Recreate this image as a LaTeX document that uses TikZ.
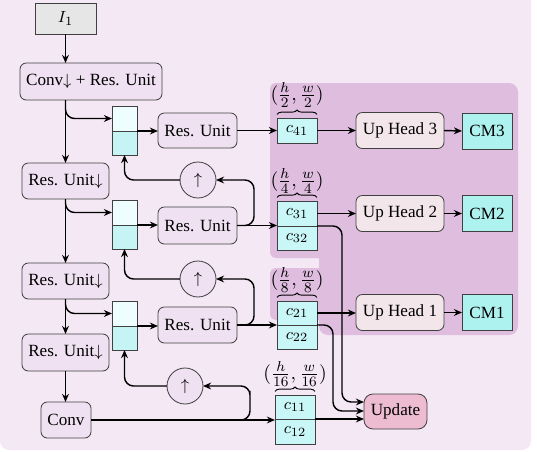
\documentclass[tikz,border=0pt]{standalone}
\usepackage{fontspec}
\setmainfont{Liberation Serif}
\usetikzlibrary{arrows.meta,decorations.pathreplacing,calc}
\newcommand\pxu{0.555pt}
\definecolor{bgcol}{HTML}{F4E8F4}
\definecolor{purp}{HTML}{DEBDDE}
\definecolor{boxfill}{HTML}{EFE1F1}
\definecolor{headfill}{HTML}{F3E6EA}
\definecolor{cfill}{HTML}{C9F6F6}
\definecolor{cmfill}{HTML}{ADF2EF}
\definecolor{stop}{HTML}{EEFDFD}
\definecolor{sbot}{HTML}{C6F4F4}
\definecolor{updfill}{HTML}{EDBCD0}
\definecolor{infill}{HTML}{E6E6E6}
\begin{document}
\begin{tikzpicture}[x=0.555pt,y=-0.555pt,
  font=\fontsize{9.5}{11}\selectfont,
  base/.style={draw=black!75, line width=0.45pt, inner sep=0pt, outer sep=0pt},
  rbox/.style={base, fill=boxfill, rounded corners=3.5pt},
  hbox/.style={base, fill=headfill, rounded corners=3.5pt},
  cbox/.style={base, fill=cfill},
  cmbox/.style={base, fill=cmfill},
  sboxt/.style={base, fill=stop, minimum width=25*\pxu, minimum height=25*\pxu},
  sboxb/.style={base, fill=sbot, minimum width=25*\pxu, minimum height=24*\pxu},
  upc/.style={base, fill=boxfill, circle, minimum size=36*\pxu},
  arr/.style={-{Stealth[length=4.5pt,width=3.8pt]}, line width=0.8pt},
  rc/.style={rounded corners=5pt},
  brc/.style={decorate, decoration={brace, amplitude=2.5pt}, line width=0.5pt},
  dim/.style={inner sep=0pt, font=\fontsize{11}{13}\selectfont}
]
\useasboundingbox (0,0) rectangle (537,452);
\fill[bgcol, rounded corners=5pt] (0,-10) rectangle (531,450);
% purple region
\fill[purp, rounded corners=5pt] (319,83) rectangle (518,335);
\fill[purp, rounded corners=3pt] (270,83) rectangle (330,258);
\fill[purp, rounded corners=3pt] (270,268) rectangle (330,320);

% left column
\node[base, fill=infill, minimum width=61*\pxu, minimum height=31*\pxu] (in) at (65.5,18.5) {$I_1$};
\node[rbox, minimum width=142*\pxu, minimum height=37*\pxu] (cr) at (91,81.5) {Conv$\downarrow$ + Res. Unit};
\node[rbox, minimum width=87*\pxu, minimum height=36*\pxu] (rd1) at (65.5,181) {Res. Unit$\downarrow$};
\node[rbox, minimum width=87*\pxu, minimum height=36*\pxu] (rd2) at (65.5,281) {Res. Unit$\downarrow$};
\node[rbox, minimum width=87*\pxu, minimum height=37*\pxu] (rd3) at (65.5,352.5) {Res. Unit$\downarrow$};
\node[rbox, minimum width=50*\pxu, minimum height=36*\pxu] (cv) at (66,420) {Conv};

% split boxes
\node[sboxt] (s1t) at (124.5,118.5) {};
\node[sboxb] (s1b) at (124.5,143) {};
\node[sboxt] (s2t) at (124.5,212.5) {};
\node[sboxb] (s2b) at (124.5,237) {};
\node[sboxt] (s3t) at (124.5,313.5) {};
\node[sboxb] (s3b) at (124.5,338) {};

% res units
\node[rbox, minimum width=79*\pxu, minimum height=35*\pxu] (ru1) at (197.5,130.5) {Res. Unit};
\node[rbox, minimum width=79*\pxu, minimum height=37*\pxu] (ru2) at (197.5,225.5) {Res. Unit};
\node[rbox, minimum width=79*\pxu, minimum height=36*\pxu] (ru3) at (197.5,325) {Res. Unit};

% up-sampling circles
\node[upc] (up1) at (198,180) {$\uparrow$};
\node[upc] (up2) at (198,279) {$\uparrow$};
\node[upc] (up3) at (185,386) {$\uparrow$};

% c boxes
\node[cbox, minimum width=40*\pxu, minimum height=25*\pxu] (c41) at (297,130.5) {$c_{41}$};
\node[cbox, minimum width=40*\pxu, minimum height=25*\pxu] (c31) at (297,213.5) {$c_{31}$};
\node[cbox, minimum width=40*\pxu, minimum height=24*\pxu] (c32) at (297,238) {$c_{32}$};
\node[cbox, minimum width=40*\pxu, minimum height=24*\pxu] (c21) at (297,313) {$c_{21}$};
\node[cbox, minimum width=40*\pxu, minimum height=24*\pxu] (c22) at (297,337) {$c_{22}$};
\node[cbox, minimum width=40*\pxu, minimum height=24*\pxu] (c11) at (295,407) {$c_{11}$};
\node[cbox, minimum width=40*\pxu, minimum height=25*\pxu] (c12) at (295,431.5) {$c_{12}$};

% size labels and braces
\node[dim] (l4) at (297,95) {$(\frac{h}{2},\frac{w}{2})$};
\node[dim] (l3) at (297,181) {$(\frac{h}{4},\frac{w}{4})$};
\node[dim] (l2) at (297,280) {$(\frac{h}{8},\frac{w}{8})$};
\node[dim] (l1) at (295,374) {$(\frac{h}{16},\frac{w}{16})$};
\draw[brc] ([yshift=2pt]c41.north west) -- ([yshift=2pt]c41.north east);
\draw[brc] ([yshift=2pt]c31.north west) -- ([yshift=2pt]c31.north east);
\draw[brc] ([yshift=2pt]c21.north west) -- ([yshift=2pt]c21.north east);
\draw[brc] ([yshift=2pt]c11.north west) -- ([yshift=2pt]c11.north east);

% heads
\node[hbox, minimum width=88*\pxu, minimum height=36*\pxu] (uh3) at (400,130.5) {Up Head 3};
\node[hbox, minimum width=88*\pxu, minimum height=36*\pxu] (uh2) at (400,213.5) {Up Head 2};
\node[hbox, minimum width=88*\pxu, minimum height=36*\pxu] (uh1) at (400,312.5) {Up Head 1};
\node[cmbox, minimum width=50*\pxu, minimum height=36*\pxu] (cm3) at (487,131) {CM3};
\node[cmbox, minimum width=50*\pxu, minimum height=36*\pxu] (cm2) at (487,213.5) {CM2};
\node[cmbox, minimum width=50*\pxu, minimum height=36*\pxu] (cm1) at (487,312.5) {CM1};
\node[base, fill=updfill, rounded corners=5pt, minimum width=63*\pxu, minimum height=35*\pxu] (upd) at (395.5,411.5) {Update};

% turning points
\coordinate (k1) at (254,200);
\coordinate (k2) at (254,300);
\coordinate (k3) at (250,400);
\coordinate (k4) at (342,300);
\coordinate (k5) at (333,370);

% left column arrows
\draw[arr] (in.south) -- (in.south |- cr.north);
\draw[arr] (cr.south -| rd1.north) -- (rd1.north);
\draw[arr, rc] (cr.south -| rd1.north) |- (s1t.west);
\draw[arr] (rd1.south) -- (rd2.north);
\draw[arr, rc] (rd1.south) |- (s2t.west);
\draw[arr] (rd2.south) -- (rd3.north);
\draw[arr, rc] (rd2.south) |- (s3t.west);
\draw[arr] (rd3.south) -- (rd3.south |- cv.north);

% split box to res units
\draw[arr] (s1t.south east) -- (s1t.south east -| ru1.west);
\draw[arr] (s2t.south east) -- (s2t.south east -| ru2.west);
\draw[arr] (s3t.south east) -- (s3t.south east -| ru3.west);

% up-sampling loops
\draw[arr, rc] (ru2.east) -| (k1) |- (up1.east);
\draw[arr, rc] (ru3.east) -| (k2) |- (up2.east);
\draw[arr, rc] (cv.east) -| (k3) |- (up3.east);
\draw[arr, rc] (up1.west) -| (s1b.south);
\draw[arr, rc] (up2.west) -| (s2b.south);
\draw[arr, rc] (up3.west) -| (s3b.south);

% to feature maps
\draw[arr] (ru1.east) -- (c41.west);
\draw[arr] (ru2.east) -- (ru2.east -| c31.south west);
\draw[arr] (ru3.east) -- (ru3.east -| c21.south west);
\draw[arr] (cv.east) -- (cv.east -| c11.south west);

% heads
\draw[arr] (c41.east) -- (uh3.west);
\draw[arr] (uh3.east) -- (cm3.west);
\draw[arr] (c31.east) -- (c31.east -| uh2.west);
\draw[arr] (uh2.east) -- (cm2.west);
\draw[arr] (c21.east) -- (c21.east -| uh1.west);
\draw[arr] (uh1.east) -- (cm1.west);

% to update
\draw[arr, rc] (c32.north east) -| (k4) |- ($(upd.west)+(0,-9.5)$);
\draw[arr, rc] (c22.north east) -| (k5) |- ($(upd.west)+(0,-0.5)$);
\draw[arr] (c12.north east) -- (c12.north east -| upd.west);
\end{tikzpicture}
\end{document}
